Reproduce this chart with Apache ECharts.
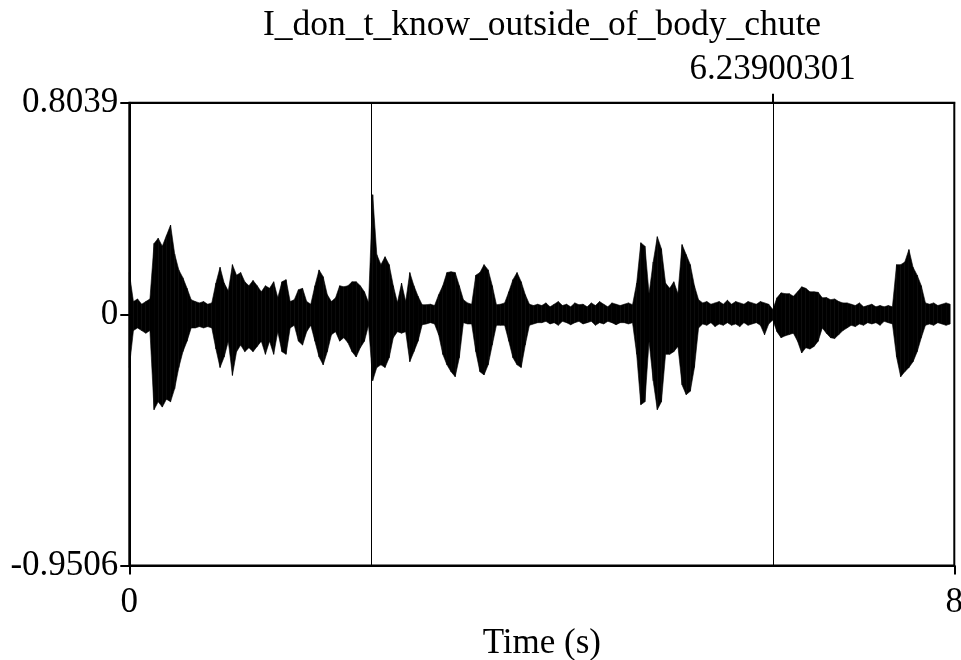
<!DOCTYPE html>
<html>
<head>
<meta charset="utf-8">
<script src="https://cdn.jsdelivr.net/npm/echarts@6/dist/echarts.min.js"></script>
<style>html,body{margin:0;padding:0;background:#fff}#c{width:961px;height:660px}</style>
</head>
<body>
<div id="c"></div>
<script>
// ---- data ----
var chartTitle = 'I_don_t_know_outside_of_body_chute';
var xAxisName = 'Time (s)';
var timeMin = 0, timeMax = 8;
var ampMin = -0.9506, ampMax = 0.8039;
var binSeconds = 0.04; // width of each envelope bin
var xTickValues = [0, 8];
var xTickLabels = ['0', '8'];
var yTickValues = [-0.9506, 0, 0.8039];
var yTickLabels = ['-0.9506', '0', '0.8039'];
var cursorTimes = [2.347, 6.23900301];
var cursorLabelTimes = [6.23900301];
var cursorLabels = ['6.23900301'];
// upper envelope per bin
var envTop = [
 0.16,0.05,0.06,0.04,0.05,0.06,0.27,0.29,0.26,0.30,
 0.34,0.23,0.17,0.14,0.10,0.057,0.05,0.045,0.05,0.04,
 0.045,0.12,0.18,0.12,0.09,0.19,0.15,0.16,0.125,0.11,
 0.13,0.11,0.087,0.11,0.10,0.125,0.064,0.125,0.133,0.05,
 0.057,0.095,0.10,0.05,0.04,0.11,0.17,0.144,0.076,0.05,
 0.064,0.11,0.106,0.11,0.125,0.125,0.11,0.087,0.046,0.455,
 0.228,0.19,0.22,0.19,0.11,0.046,0.12,0.05,0.16,0.11,
 0.07,0.038,0.038,0.04,0.035,0.076,0.11,0.16,0.163,0.16,
 0.11,0.057,0.045,0.04,0.15,0.16,0.19,0.17,0.11,0.038,
 0.04,0.045,0.087,0.133,0.16,0.125,0.076,0.04,0.035,0.04,
 0.035,0.045,0.03,0.04,0.05,0.035,0.04,0.03,0.045,0.038,
 0.04,0.03,0.045,0.035,0.05,0.04,0.03,0.045,0.04,0.035,
 0.04,0.045,0.038,0.12,0.273,0.26,0.08,0.2,0.296,0.25,
 0.12,0.10,0.125,0.08,0.266,0.228,0.19,0.11,0.057,0.045,
 0.05,0.04,0.045,0.05,0.04,0.055,0.04,0.05,0.045,0.04,
 0.05,0.045,0.04,0.05,0.045,0.04,0.02,0.064,0.083,0.08,
 0.08,0.07,0.087,0.106,0.10,0.087,0.087,0.085,0.064,0.065,
 0.057,0.06,0.05,0.045,0.045,0.04,0.035,0.045,0.03,0.035,
 0.04,0.03,0.035,0.03,0.035,0.03,0.19,0.19,0.2,0.247,
 0.18,0.15,0.11,0.045,0.04,0.045,0.035,0.04,0.045,0.04
];
// lower envelope per bin
var envBottom = [
 -0.2,-0.06,-0.05,-0.06,-0.07,-0.06,-0.36,-0.33,-0.35,-0.32,
 -0.33,-0.28,-0.2,-0.14,-0.10,-0.05,-0.05,-0.045,-0.05,-0.045,
 -0.05,-0.13,-0.2,-0.16,-0.1,-0.23,-0.14,-0.115,-0.14,-0.125,
 -0.14,-0.12,-0.10,-0.15,-0.10,-0.15,-0.064,-0.14,-0.15,-0.05,
 -0.04,-0.10,-0.115,-0.064,-0.04,-0.10,-0.16,-0.19,-0.14,-0.076,
 -0.064,-0.10,-0.087,-0.106,-0.14,-0.16,-0.125,-0.10,-0.04,-0.25,
 -0.2,-0.19,-0.2,-0.163,-0.087,-0.064,-0.07,-0.064,-0.178,-0.14,
 -0.10,-0.038,-0.035,-0.03,-0.035,-0.076,-0.15,-0.19,-0.216,-0.235,
 -0.163,-0.03,-0.035,-0.035,-0.14,-0.216,-0.228,-0.19,-0.114,-0.04,
 -0.04,-0.04,-0.10,-0.163,-0.19,-0.2,-0.114,-0.04,-0.035,-0.03,
 -0.03,-0.025,-0.035,-0.03,-0.04,-0.025,-0.03,-0.038,-0.03,-0.025,
 -0.035,-0.03,-0.025,-0.04,-0.03,-0.035,-0.025,-0.03,-0.038,-0.03,
 -0.03,-0.035,-0.03,-0.15,-0.341,-0.33,-0.1,-0.25,-0.36,-0.33,
 -0.15,-0.15,-0.14,-0.12,-0.266,-0.303,-0.29,-0.2,-0.05,-0.035,
 -0.04,-0.03,-0.045,-0.035,-0.04,-0.03,-0.04,-0.035,-0.045,-0.03,
 -0.04,-0.035,-0.03,-0.04,-0.076,-0.035,-0.02,-0.064,-0.087,-0.08,
 -0.075,-0.07,-0.10,-0.145,-0.125,-0.13,-0.12,-0.10,-0.05,-0.07,
 -0.087,-0.09,-0.075,-0.06,-0.05,-0.04,-0.045,-0.035,-0.04,-0.03,
 -0.035,-0.03,-0.04,-0.025,-0.03,-0.035,-0.16,-0.235,-0.216,-0.2,
 -0.178,-0.14,-0.087,-0.04,-0.035,-0.04,-0.03,-0.035,-0.04,-0.035
];

// ---- build per-bin segments for the waveform envelope ----
var segs = [];
for (var i = 0; i < envTop.length - 1; i++) {
  segs.push([i * binSeconds, envTop[i], envBottom[i], (i + 1) * binSeconds, envTop[i + 1], envBottom[i + 1]]);
}

var FONT = 'Liberation Serif';
var FS = 35;
var chart = echarts.init(document.getElementById('c'), null, {renderer: 'canvas'});
chart.setOption({
  animation: false,
  backgroundColor: '#fff',
  grid: {left: 129.3, right: 6.7, top: 102.7, bottom: 94.5, show: true, borderColor: '#000', borderWidth: 2,
         outerBoundsMode: 'none', containLabel: false},
  graphic: [{
    type: 'text', x: 542, y: 8,
    style: {text: chartTitle, font: '35.5px "' + FONT + '"', fill: '#000', textAlign: 'center'}
  }],
  xAxis: [{
    type: 'value', position: 'bottom', min: timeMin, max: timeMax,
    name: xAxisName, nameLocation: 'middle', nameGap: 61,
    nameTextStyle: {fontFamily: FONT, fontSize: FS, color: '#000'},
    axisLine: {show: true, onZero: false, lineStyle: {color: '#000', width: 2}},
    axisTick: {show: true, length: 9, lineStyle: {color: '#000', width: 2}, customValues: xTickValues},
    axisLabel: {fontFamily: FONT, fontSize: FS, color: '#000', margin: 20, customValues: xTickValues,
      formatter: function (v) { return xTickLabels[xTickValues.indexOf(v)]; }},
    splitLine: {show: false}
  }, {
    type: 'value', position: 'top', min: timeMin, max: timeMax,
    axisLine: {show: true, onZero: false, lineStyle: {color: '#000', width: 2}},
    axisTick: {show: true, length: 9, lineStyle: {color: '#000', width: 2}, customValues: cursorLabelTimes},
    axisLabel: {fontFamily: FONT, fontSize: FS, color: '#000', margin: 15, customValues: cursorLabelTimes,
      formatter: function (v) { return cursorLabels[cursorLabelTimes.indexOf(v)]; }},
    splitLine: {show: false}
  }],
  yAxis: [{
    type: 'value', min: ampMin, max: ampMax,
    axisLine: {show: true, onZero: false, lineStyle: {color: '#000', width: 2}},
    axisTick: {show: true, length: 9, lineStyle: {color: '#000', width: 2}, customValues: yTickValues},
    axisLabel: {fontFamily: FONT, fontSize: FS, color: '#000', margin: 11, customValues: yTickValues,
      formatter: function (v) { return yTickLabels[yTickValues.indexOf(v)]; }},
    splitLine: {show: false}
  }],
  series: [{
    type: 'custom', xAxisIndex: 0, yAxisIndex: 0, data: segs, silent: true,
    encode: {x: [0, 3], y: [1, 2, 4, 5]},
    renderItem: function (params, api) {
      var a = api.coord([api.value(0), api.value(1)]);
      var b = api.coord([api.value(3), api.value(4)]);
      var c = api.coord([api.value(3), api.value(5)]);
      var d = api.coord([api.value(0), api.value(2)]);
      return {type: 'polygon', shape: {points: [a, b, c, d]},
              style: {fill: '#000', stroke: '#000', lineWidth: 0.6}};
    }
  }, {
    type: 'line', xAxisIndex: 0, yAxisIndex: 0, data: [], silent: true, symbol: 'none',
    markLine: {
      silent: true, symbol: 'none', label: {show: false},
      lineStyle: {color: '#000', width: 1, type: 'solid'},
      data: cursorTimes.map(function (t) { return {xAxis: t}; })
    }
  }]
});
</script>
</body>
</html>
